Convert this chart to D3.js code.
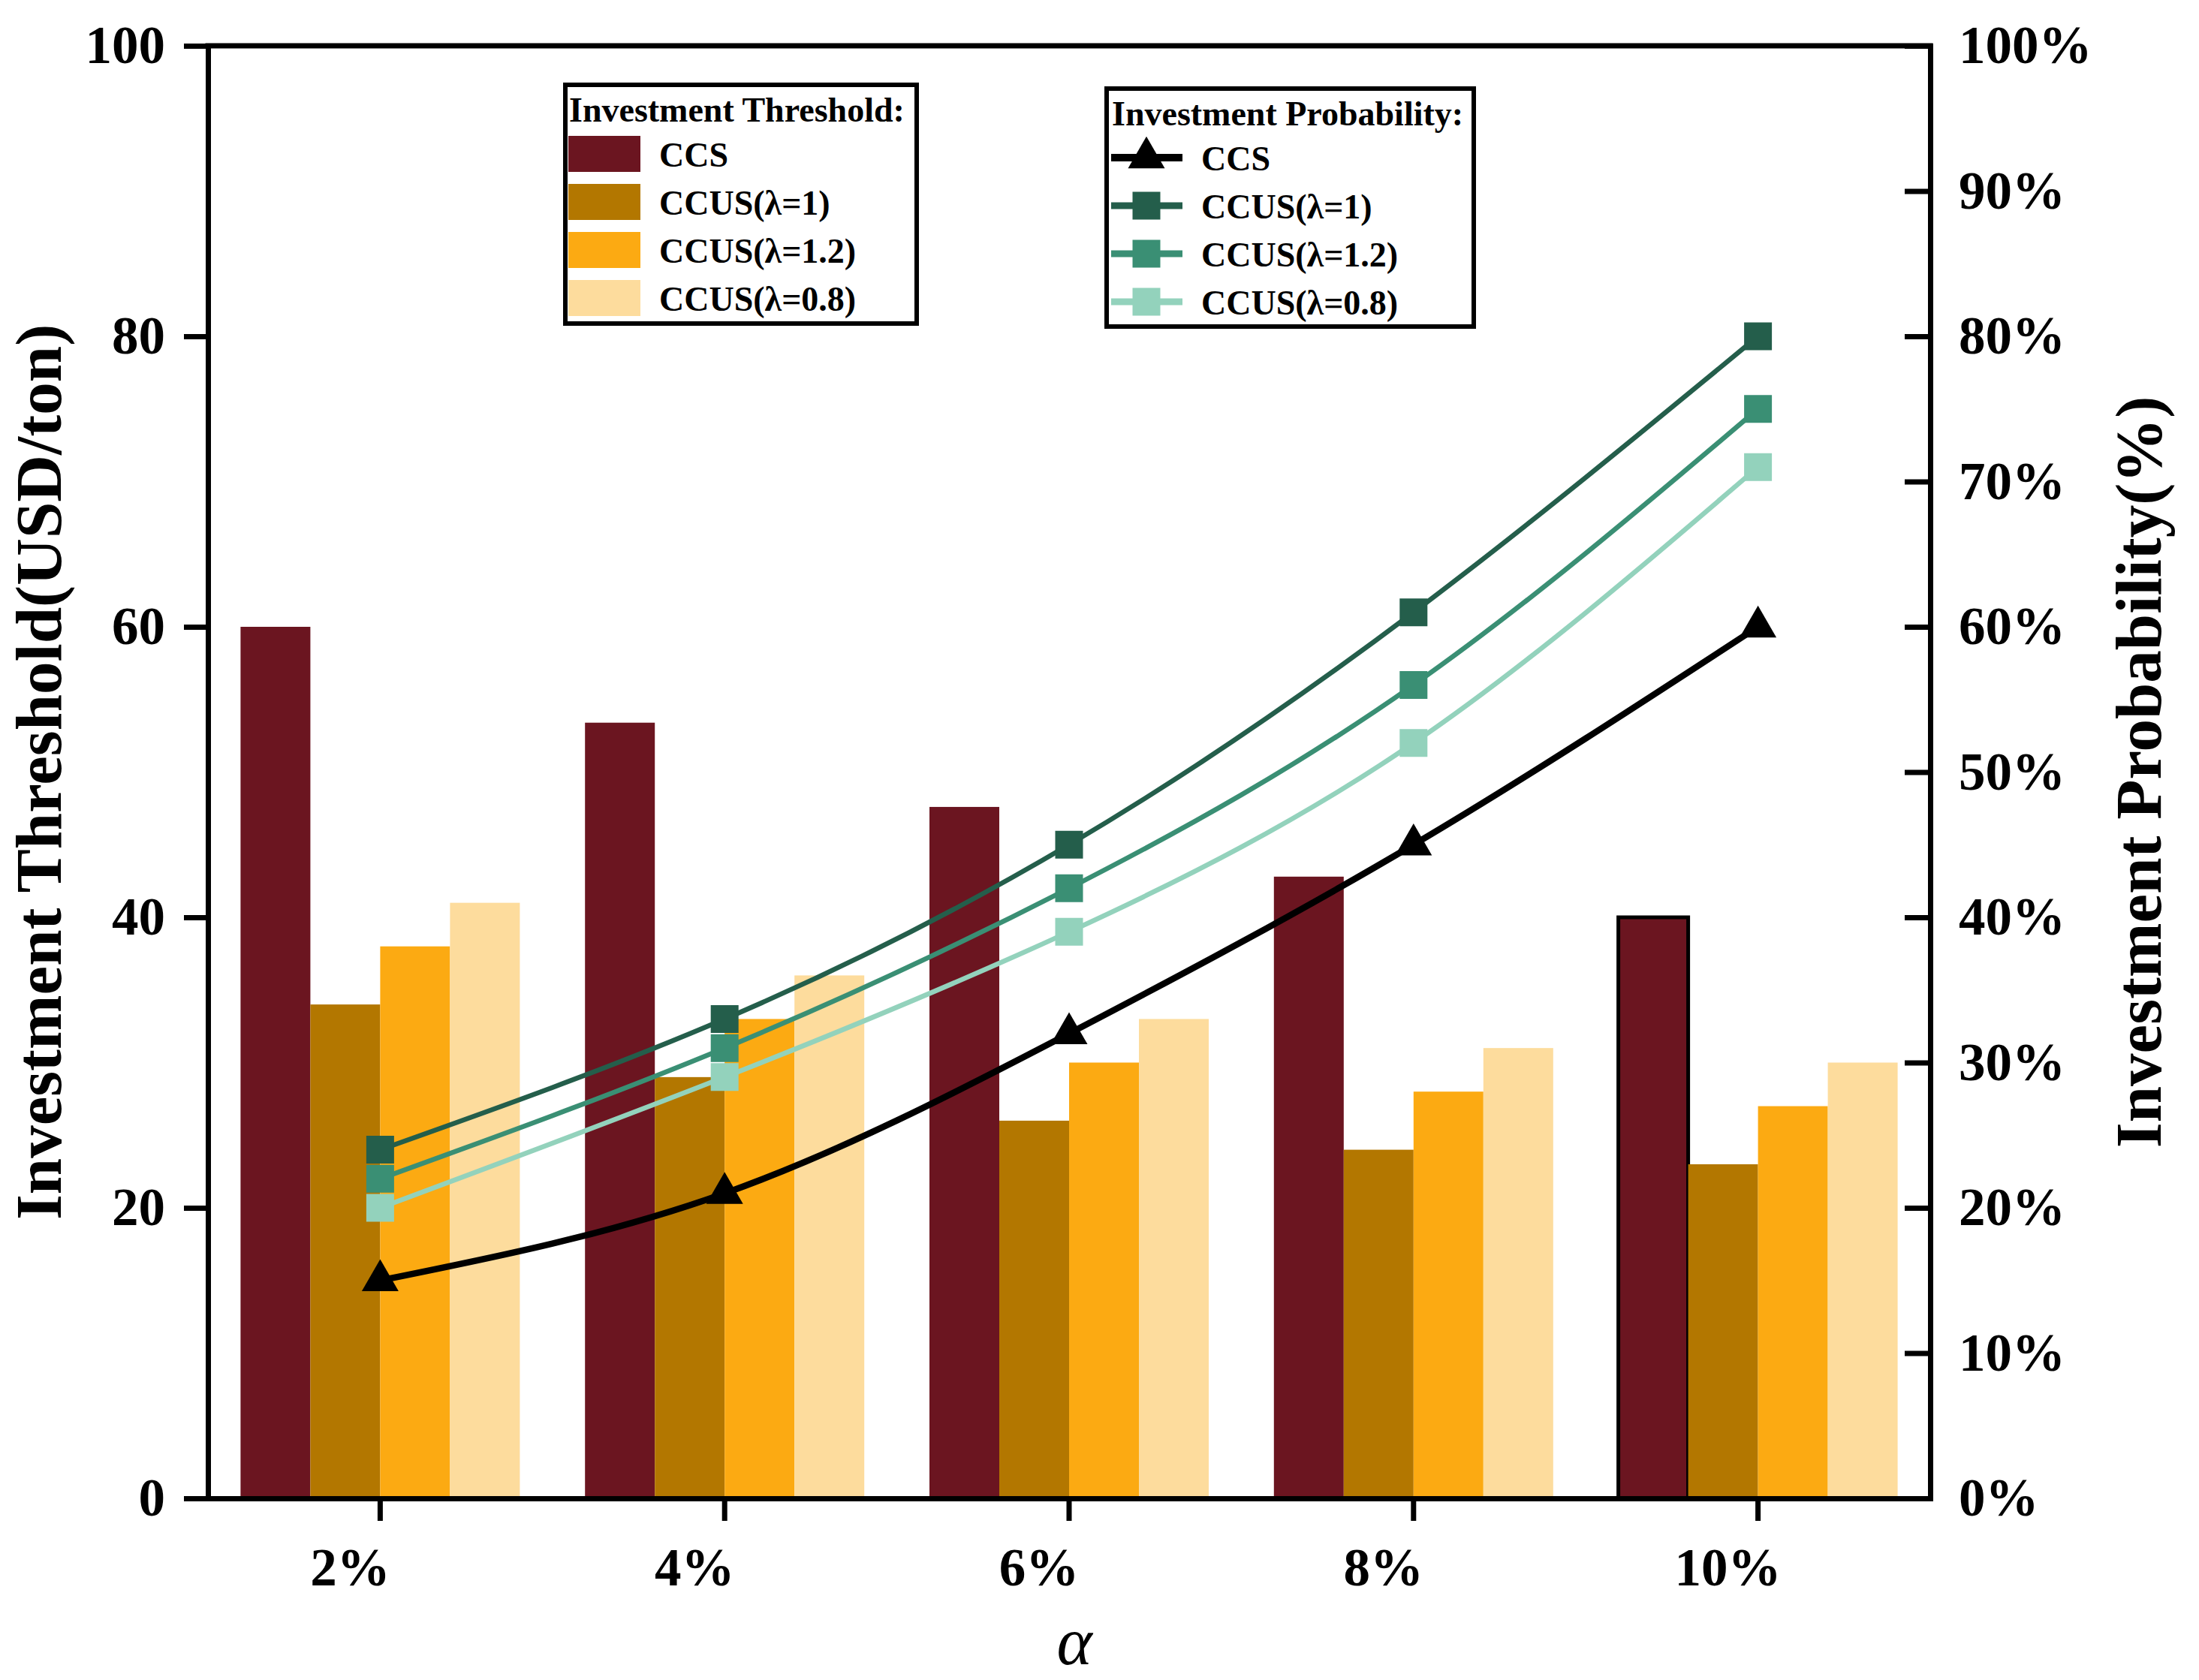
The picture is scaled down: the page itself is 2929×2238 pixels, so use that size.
<!DOCTYPE html>
<html>
<head>
<meta charset="utf-8">
<script src="https://cdn.jsdelivr.net/npm/d3@7"></script>
<style>
html,body{margin:0;padding:0;background:#fff;overflow:hidden}
svg{display:block}
text{font-family:'Liberation Serif','Times New Roman',serif;font-weight:bold}
</style>
</head>
<body>
<svg id="chart"></svg>
<script>
// data
const alphaLabels = ['2%','4%','6%','8%','10%']
const seriesNames = ['CCS','CCUS(λ=1)','CCUS(λ=1.2)','CCUS(λ=0.8)']

// investment threshold (USD/ton) -> bars, left axis
const thresholdCCS = [60,53.4,47.6,42.8,40]
const thresholdL1 = [34,29,26,24,23]
const thresholdL12 = [38,33,30,28,27]
const thresholdL08 = [41,36,33,31,30]

// investment probability (%) -> lines, right axis
const probCCS = [15,21,32,45,60]
const probL1 = [24,33,45,61,80]
const probL12 = [22,31,42,56,75]
const probL08 = [20,29,39,52,71]

const leftTicks = [0,20,40,60,80,100]
const rightTicks = [0,10,20,30,40,50,60,70,80,90,100]

const barColors = ['#6B1520','#B37700','#FCAA12','#FDDC9D']
const lineColors = ['#000000','#245E4B','#3A8F74','#93D2BC']

const width = 2929
const height = 2238
const margin = {top:61,right:358,bottom:242,left:277}
const innerWidth = width - margin.left - margin.right
const innerHeight = height - margin.top - margin.bottom

const svg = d3.select('#chart')
  .attr('width',width)
  .attr('height',height)
  .style('background','#fff')

const g = svg.append('g')
  .attr('transform',`translate(${margin.left},${margin.top})`)

const x0 = d3.scaleBand().domain(alphaLabels).range([0,innerWidth])
const barW = x0.bandwidth()*0.2027
const x1 = d3.scaleBand().domain(seriesNames).range([-2*barW,2*barW])
const yLeft = d3.scaleLinear().domain([0,100]).range([innerHeight,0])
const yRight = d3.scaleLinear().domain([0,100]).range([innerHeight,0])
const cx = label => x0(label)+x0.bandwidth()/2

// bars
const barSeries = [thresholdCCS,thresholdL1,thresholdL12,thresholdL08]
seriesNames.forEach((name,i)=>{
  g.append('g').attr('class','bars').selectAll('rect')
    .data(barSeries[i])
    .join('rect')
    .attr('x',(d,j)=>cx(alphaLabels[j])+x1(name))
    .attr('y',d=>yLeft(d))
    .attr('width',x1.bandwidth())
    .attr('height',d=>innerHeight-yLeft(d))
    .attr('fill',barColors[i])
    .attr('stroke',(d,j)=> (i===0 && j===alphaLabels.length-1) ? '#000' : 'none')
    .attr('stroke-width',5)
})

// lines
const lineSeries = [probCCS,probL1,probL12,probL08]
const linePath = d3.line()
  .x((d,j)=>cx(alphaLabels[j]))
  .y(d=>yRight(d))
  .curve(d3.curveNatural)

const triangle = d3.symbol(d3.symbolTriangle,1040)
const square = d3.symbol(d3.symbolSquare,37*37)

lineSeries.forEach((vals,i)=>{
  const lg = g.append('g').attr('class','line-series')
  lg.append('path')
    .attr('d',linePath(vals))
    .attr('fill','none')
    .attr('stroke',lineColors[i])
    .attr('stroke-width',i===0 ? 8.5 : 6.5)
  lg.selectAll('path.marker')
    .data(vals)
    .join('path')
    .attr('class','marker')
    .attr('d',i===0 ? triangle() : square())
    .attr('transform',(d,j)=>`translate(${cx(alphaLabels[j])},${yRight(d)})`)
    .attr('fill',lineColors[i])
})

// axes
function styleAxis(sel){
  sel.attr('font-size',71).attr('fill','#000')
  sel.select('.domain').attr('stroke','#000').attr('stroke-width',7).attr('stroke-linecap','square')
  sel.selectAll('.tick line').attr('stroke','#000').attr('stroke-width',7)
  sel.selectAll('.tick text').attr('fill','#000')
}

const yAxisL = d3.axisLeft(yLeft).tickValues(leftTicks).tickSize(32).tickSizeOuter(0).tickPadding(25)
g.append('g').attr('id','yAxisL').call(yAxisL).call(styleAxis)

const yAxisR = d3.axisRight(yRight).tickValues(rightTicks)
  .tickSizeInner(-34).tickSizeOuter(0).tickPadding(38)
  .tickFormat(d=>d+'%')
g.append('g').attr('id','yAxisR').attr('transform',`translate(${innerWidth},0)`)
  .call(yAxisR).call(styleAxis)

const xAxis = d3.axisBottom(x0).tickSize(30).tickSizeOuter(0).tickPadding(36)
g.append('g').attr('id','xAxis').attr('transform',`translate(0,${innerHeight})`)
  .call(xAxis).call(styleAxis)
  .selectAll('.tick text').attr('dx',-40)

g.append('line')
  .attr('x1',0).attr('x2',innerWidth).attr('y1',0).attr('y2',0)
  .attr('stroke','#000').attr('stroke-width',7).attr('stroke-linecap','square')

// axis titles
svg.append('text').text('Investment Threshold(USD/ton)')
  .attr('transform',`translate(81,${margin.top+innerHeight/2}) rotate(-90)`)
  .attr('text-anchor','middle').attr('font-size',87)

svg.append('text').text('Investment Probability(%)')
  .attr('transform',`translate(2878,${margin.top+innerHeight/2}) rotate(-90)`)
  .attr('text-anchor','middle').attr('font-size',87)

svg.append('text').text('α')
  .attr('x',margin.left+innerWidth/2+7).attr('y',2217)
  .attr('text-anchor','middle').attr('font-size',90)
  .style('font-style','italic').style('font-weight','normal')

// legend: investment threshold
const leg1 = svg.append('g').attr('id','legendThreshold')
leg1.append('rect').attr('x',753).attr('y',113).attr('width',468).attr('height',318)
  .attr('fill','#fff').attr('stroke','#000').attr('stroke-width',6)
leg1.append('text').text('Investment Threshold:').attr('x',758).attr('y',162).attr('font-size',46)
leg1.selectAll('rect.sw').data(seriesNames).join('rect').attr('class','sw')
  .attr('x',757).attr('y',(d,i)=>181+64*i).attr('width',96).attr('height',48)
  .attr('fill',(d,i)=>barColors[i])
leg1.selectAll('text.lab').data(seriesNames).join('text').attr('class','lab')
  .text(d=>d).attr('x',878).attr('y',(d,i)=>222+64*i).attr('font-size',46)

// legend: investment probability
const leg2 = svg.append('g').attr('id','legendProbability')
leg2.append('rect').attr('x',1474).attr('y',118).attr('width',489).attr('height',317)
  .attr('fill','#fff').attr('stroke','#000').attr('stroke-width',6)
leg2.append('text').text('Investment Probability:').attr('x',1481).attr('y',167).attr('font-size',46)
seriesNames.forEach((name,i)=>{
  const ry = 210+64*i
  leg2.append('line').attr('x1',1480).attr('x2',1575).attr('y1',ry).attr('y2',ry)
    .attr('stroke',lineColors[i]).attr('stroke-width',i===0 ? 10 : 9)
  leg2.append('path').attr('d',i===0 ? triangle() : square())
    .attr('transform',`translate(1527,${ry})`).attr('fill',lineColors[i])
  leg2.append('text').text(name).attr('x',1600).attr('y',ry+17).attr('font-size',46)
})
</script>
</body>
</html>
